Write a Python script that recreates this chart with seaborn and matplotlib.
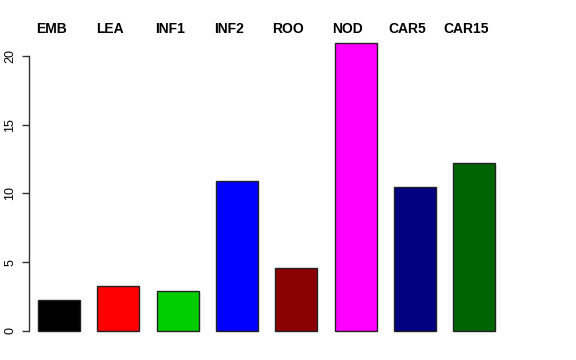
import matplotlib
matplotlib.use("Agg")
import matplotlib.pyplot as plt
import seaborn as sns
import pandas as pd

categories = ["EMB", "LEA", "INF1", "INF2", "ROO", "NOD", "CAR5", "CAR15"]
values = [2.25, 3.25, 2.9, 10.9, 4.55, 20.95, 10.5, 12.2]
colors = ["#000000", "#FF0000", "#00CD00", "#0000FF", "#8B0000", "#FF00FF", "#000080", "#006400"]
yticks = [0, 5, 10, 15, 20]

sns.set_style("white")
plt.rcParams['font.family'] = ['Liberation Sans', 'DejaVu Sans']
plt.rcParams['text.color'] = 'black'
plt.rcParams['ytick.color'] = 'black'

W, H = 576, 360
fig = plt.figure(figsize=(W / 100, H / 100), dpi=100)
left, right, top, bottom = 29, 504, 31.4, 342.5
ax = fig.add_axes([left / W, 1 - bottom / H, (right - left) / W, (bottom - top) / H])

df = pd.DataFrame({"cat": categories, "val": values})
sns.barplot(data=df, x="cat", y="val", hue="cat", palette=colors, order=categories,
            hue_order=categories, width=0.708, edgecolor="#222222", linewidth=1.0,
            legend=False, ax=ax, saturation=1)

ax.set_xlim(-0.506, 7.504)
ax.set_ylim(-0.84, 21.79)
for s in ["top", "right", "bottom"]:
    ax.spines[s].set_visible(False)
ax.spines["left"].set_bounds(0, 20)
ax.spines["left"].set_color("#333333")
ax.spines["left"].set_linewidth(1.0)
ax.set_xticks([])
ax.set_yticks(yticks)
ax.set_yticklabels([str(t) for t in yticks], rotation=90, va="center", fontsize=9, color="black")
ax.tick_params(axis="y", left=True, length=5, width=1.0, color="#333333", pad=4)
ax.set_xlabel("")
ax.set_ylabel("")
ax.grid(False)

for i, c in enumerate(categories):
    ax.text(i - 8 / 59.3, 21.93, c, ha="center", va="center", fontsize=10,
            fontweight="bold", color="black", clip_on=False)

fig.savefig("out.png", dpi=100)
